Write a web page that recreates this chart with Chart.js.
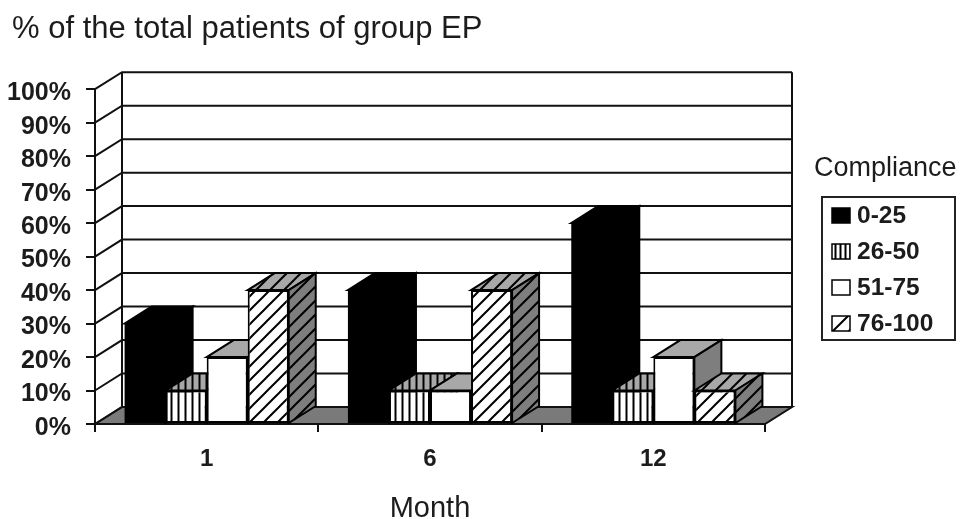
<!DOCTYPE html>
<html>
<head>
<meta charset="utf-8">
<style>
  html, body { margin: 0; padding: 0; background: #fff; }
  #wrap { width: 963px; height: 519px; overflow: hidden; }
</style>
</head>
<body>
<div id="wrap"><canvas id="myChart" width="963" height="519"></canvas></div>
<script src="https://cdn.jsdelivr.net/npm/chart.js@4"></script>
<script>
const categories = ["1", "6", "12"]
const seriesNames = ["0-25", "26-50", "51-75", "76-100"]
const low = [30, 40, 60]
const midLow = [10, 10, 10]
const midHigh = [20, 10, 20]
const high = [40, 40, 10]

const FONT = '"Liberation Sans", Arial, sans-serif'
const INK = "#1c1c1c"
const DX = 27, DY = 17   // how far the back wall sits from the front plane
const TOP_GREY = "#a8a8a8", SIDE_GREY = "#7e7e7e", FLOOR_GREY = "#7a7a7a"

function makePattern(kind, bg, size) {
    const c = document.createElement("canvas")
    c.width = size
    c.height = size
    const g = c.getContext("2d")
    g.fillStyle = bg
    g.fillRect(0, 0, size, size)
    g.strokeStyle = "#000"
    g.lineWidth = 2
    g.beginPath()
    if (kind === "vertical") {
        g.moveTo(size / 2, 0); g.lineTo(size / 2, size)
    } else {
        g.moveTo(-2, size + 2); g.lineTo(size + 2, -2)
        g.moveTo(-2, 2); g.lineTo(2, -2)
        g.moveTo(size - 2, size + 2); g.lineTo(size + 2, size - 2)
    }
    g.stroke()
    return g.createPattern(c, "repeat")
}

const ctx = document.querySelector("#myChart").getContext("2d")

const fronts = ["#000", makePattern("vertical", "#fff", 7), "#fff", makePattern("diagonal", "#fff", 14)]
const tops = ["#000", makePattern("vertical", TOP_GREY, 7), TOP_GREY, makePattern("diagonal", TOP_GREY, 14)]
const sides = ["#000", makePattern("vertical", SIDE_GREY, 7), SIDE_GREY, makePattern("diagonal", SIDE_GREY, 14)]
const swatches = ["#000", makePattern("vertical", "#fff", 5), "#fff", makePattern("diagonal", "#fff", 16)]

function face(c, pts, fill) {
    c.beginPath()
    pts.forEach((p, i) => i ? c.lineTo(p[0], p[1]) : c.moveTo(p[0], p[1]))
    c.closePath()
    if (fill) {
        c.fillStyle = fill
        c.fill()
    }
    c.stroke()
}

// back wall, floor and side wall, then the bars left to right with their depth faces
const box3d = {
    id: "box3d",
    afterLayout(chart) {
        // y labels need the room on the left, the title starts a little further in
        chart.titleBlock.left = 12
    },
    beforeDatasetsDraw(chart) {
        const c = chart.ctx
        const y = chart.scales.y
        const a = chart.chartArea
        c.save()
        c.strokeStyle = "#111"
        c.lineWidth = 2
        face(c, [[a.left, a.bottom], [a.left + DX, a.bottom - DY], [a.right + DX, a.bottom - DY], [a.right, a.bottom]], FLOOR_GREY)
        y.ticks.forEach(t => {
            const py = y.getPixelForValue(t.value)
            c.beginPath()
            c.moveTo(a.left, py)
            c.lineTo(a.left + DX, py - DY)
            c.lineTo(a.right + DX, py - DY)
            c.stroke()
        })
        c.beginPath()
        c.moveTo(a.left + DX, a.top - DY)
        c.lineTo(a.left + DX, a.bottom - DY)
        c.moveTo(a.right + DX, a.top - DY)
        c.lineTo(a.right + DX, a.bottom - DY)
        c.stroke()

        chart.getSortedVisibleDatasetMetas().forEach(meta => {
            meta.data.forEach(bar => {
                const l = bar.x - bar.width / 2, r = bar.x + bar.width / 2
                c.strokeStyle = "#000"
                c.lineWidth = 2
                face(c, [[l, bar.y], [l + DX, bar.y - DY], [r + DX, bar.y - DY], [r, bar.y]], tops[meta.index])
                face(c, [[r, bar.y], [r + DX, bar.y - DY], [r + DX, bar.base - DY], [r, bar.base]], sides[meta.index])
                bar.draw(c, a)
            })
        })
        c.restore()
        return false
    },
    afterDraw(chart) {
        const c = chart.ctx
        c.save()
        c.fillStyle = INK
        c.textBaseline = "middle"
        c.font = "27px " + FONT
        c.fillText("Compliance", 814, 169)
        c.strokeStyle = "#222"
        c.lineWidth = 2
        c.strokeRect(822, 197, 133, 143)
        const rows = [216, 252, 288, 324]
        chart.data.datasets.forEach((d, i) => {
            c.save()
            c.translate(833, rows[i] - 9)
            c.fillStyle = swatches[i]
            c.fillRect(-1, 1, 18, 15)
            c.lineWidth = 1.5
            c.strokeStyle = "#000"
            c.strokeRect(-1, 1, 18, 15)
            c.restore()
            c.fillStyle = INK
            c.font = "bold 24.5px " + FONT
            c.fillText(d.label, 857, rows[i])
        })
        c.restore()
    }
}

const seriesValues = [low, midLow, midHigh, high]

var myChart = new Chart(ctx, {
    type: "bar",
    data: {
        labels: categories,
        datasets: seriesNames.map((name, i) => ({
            label: name,
            data: seriesValues[i],
            backgroundColor: fronts[i],
            borderColor: "#000",
            borderWidth: i === 0 ? 0 : 2,
            borderSkipped: false,
            categoryPercentage: 0.735,
            barPercentage: 1
        }))
    },
    options: {
        responsive: false,
        animation: false,
        layout: { padding: { left: 6, right: 198, top: 0, bottom: 0 } },
        plugins: {
            legend: { display: false },
            tooltip: { enabled: false },
            title: {
                display: true,
                text: "% of the total patients of group EP",
                align: "start",
                color: INK,
                font: { family: FONT, size: 31, weight: "normal" },
                padding: { top: 11, bottom: 41 }
            }
        },
        scales: {
            x: {
                afterFit: s => { s.height = 95 },
                grid: { drawOnChartArea: false, color: "#111", tickLength: 8, lineWidth: 2 },
                border: { color: "#111", width: 2 },
                ticks: { color: INK, padding: 13, font: { family: FONT, size: 24, weight: "bold" } },
                title: {
                    display: true,
                    text: "Month",
                    color: INK,
                    font: { family: FONT, size: 29, weight: "normal" },
                    padding: { top: 18, bottom: -7 }
                }
            },
            y: {
                min: 0,
                max: 100,
                afterFit: s => { s.width = 89 },
                grid: { drawOnChartArea: false, color: "#111", tickLength: 9, lineWidth: 2 },
                border: { color: "#111", width: 2 },
                ticks: {
                    stepSize: 10,
                    color: INK,
                    padding: 15,
                    labelOffset: 4,
                    font: { family: FONT, size: 25, weight: "bold" },
                    callback: v => v + "%"
                }
            }
        }
    },
    plugins: [box3d]
})
</script>
</body>
</html>
